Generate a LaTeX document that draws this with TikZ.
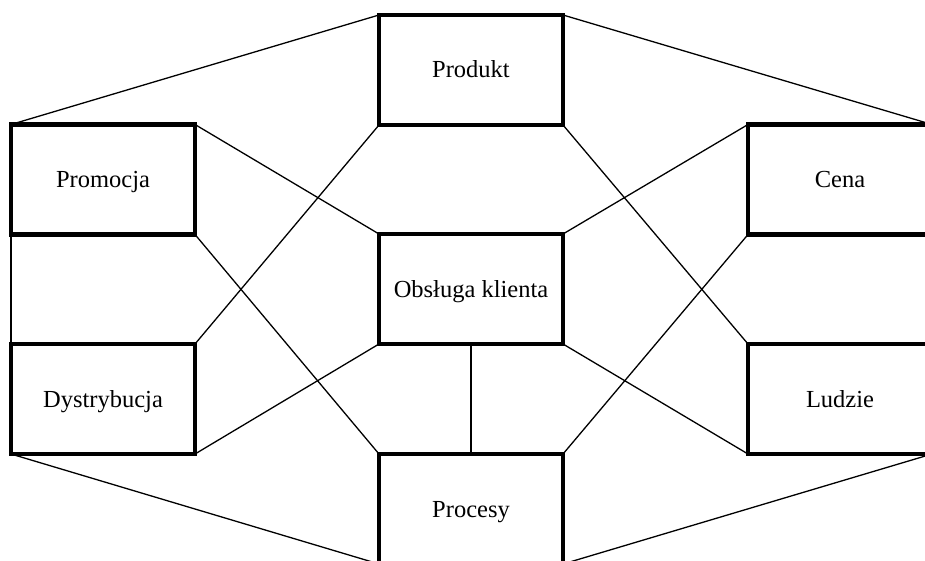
\documentclass[tikz,border=0pt]{standalone}
\usepackage{fontspec}
\setmainfont{Liberation Serif}
\begin{document}
\begin{tikzpicture}[x=1pt,y=-1pt,
  box/.style={draw=black, line width=4.8pt, rectangle, outer sep=0pt,
    minimum width=184pt, minimum height=110pt, inner sep=0pt,
    text height=16pt, text depth=0pt,
    font=\fontsize{24.5}{28}\selectfont},
  link/.style={draw=black, line width=1.3pt}]
\useasboundingbox (0,0) rectangle (925,561);
\clip (0,0) rectangle (925,561);
% the seven elements of the marketing mix
\node[box] (prod) at (471,70) {Produkt};
\node[box] (prom) at (103,179.5) {Promocja};
\node[box] (cena) at (840,179.5) {Cena};
\node[box] (obs)  at (471,289) {Obsługa klienta};
\node[box] (dys)  at (103,399) {Dystrybucja};
\node[box] (lud)  at (840,399) {Ludzie};
\node[box] (proc) at (471,509) {Procesy};
% outer frame
\draw[link] (prod.north west) -- (prom.north west);
\draw[link] (prod.north east) -- (cena.north east);
\draw[link] (dys.south west) -- (proc.south west);
\draw[link] (lud.south east) -- (proc.south east);
\draw[link] (prom.south west) -- (dys.north west);
% inner connections
\draw[link] (prom.north east) -- (obs.north west);
\draw[link] (prom.south east) -- (proc.north west);
\draw[link] (dys.north east) -- (prod.south west);
\draw[link] (dys.south east) -- (obs.south west);
\draw[link] (cena.north west) -- (obs.north east);
\draw[link] (cena.south west) -- (proc.north east);
\draw[link] (prod.south east) -- (lud.north west);
\draw[link] (lud.south west) -- (obs.south east);
\draw[link] (obs.south) -- (proc.north);
\end{tikzpicture}
\end{document}
